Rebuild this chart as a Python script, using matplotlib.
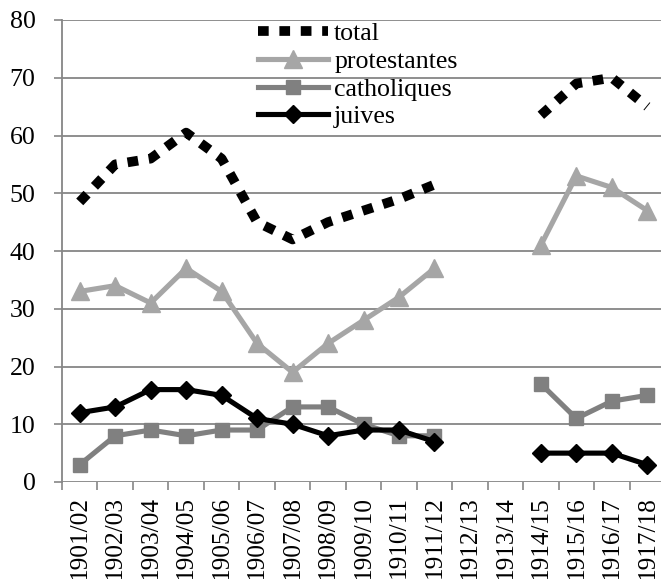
import numpy as np
import matplotlib
matplotlib.use("Agg")
import matplotlib.pyplot as plt
from matplotlib.ticker import FixedLocator

plt.rcParams['font.family'] = ['Liberation Serif', 'DejaVu Serif']

years = ['1901/02', '1902/03', '1903/04', '1904/05', '1905/06', '1906/07',
         '1907/08', '1908/09', '1909/10', '1910/11', '1911/12', '1912/13',
         '1913/14', '1914/15', '1915/16', '1916/17', '1917/18']
nan = np.nan
total = [48.5, 55, 56, 60.5, 56, 45, 42, 45, 47, 49, 51.5, nan, nan,
         63.5, 69, 70, 65]
protestantes = [33, 34, 31, 37, 33, 24, 19, 24, 28, 32, 37, nan, nan,
                41, 53, 51, 47]
catholiques = [3, 8, 9, 8, 9, 9, 13, 13, 10, 8, 8, nan, nan,
               17, 11, 14, 15]
juives = [12, 13, 16, 16, 15, 11, 10, 8, 9, 9, 7, nan, nan,
          5, 5, 5, 3]

grid_c = '#868686'
fs = 18.6

fig = plt.figure(figsize=(6.61, 5.79), dpi=100)
ax = fig.add_axes([62 / 661, 1 - 482 / 579, 603 / 661, 462 / 579])

x = np.arange(len(years))
ax.plot(x, total, color='black', lw=7, dashes=(1.1, 1.1),
        dash_capstyle='butt', label='total', zorder=5)
ax.plot(x, protestantes, color='#A6A6A6', lw=3.7, marker='^', ms=13,
        label='protestantes', zorder=3)
ax.plot(x, catholiques, color='#808080', lw=3.7, marker='s', ms=9.5,
        label='catholiques', zorder=3)
ax.plot(x, juives, color='black', lw=3.7, marker='D', ms=9,
        label='juives', zorder=4)

ax.set_xlim(-0.5, len(years) - 0.5)
ax.set_ylim(0, 80)
ax.set_yticks(np.arange(0, 81, 10))
ax.set_xticks(x)
ax.set_xticklabels(years, rotation=90, fontsize=18.2)
ax.xaxis.set_minor_locator(FixedLocator(np.arange(-0.5, len(years), 1)))
ax.tick_params(axis='x', which='major', length=0, pad=10)
ax.tick_params(axis='x', which='minor', length=6, width=1.2, color=grid_c)
ax.tick_params(axis='y', length=6, width=1.2, color=grid_c, labelsize=fs, pad=13)

ax.yaxis.grid(True, color=grid_c, lw=1.3)
ax.set_axisbelow(True)
for s in ['top', 'right', 'bottom']:
    ax.spines[s].set_visible(False)
ax.spines['left'].set_color(grid_c)
ax.spines['left'].set_linewidth(1.3)

ax.legend(loc='upper left', bbox_to_anchor=(258 / 661, 1 - 22 / 579),
          bbox_transform=fig.transFigure, frameon=False, fontsize=fs,
          handlelength=2.7, handletextpad=0.25, labelspacing=0.18,
          borderpad=0, borderaxespad=0)

fig.savefig('out.png', dpi=100)
